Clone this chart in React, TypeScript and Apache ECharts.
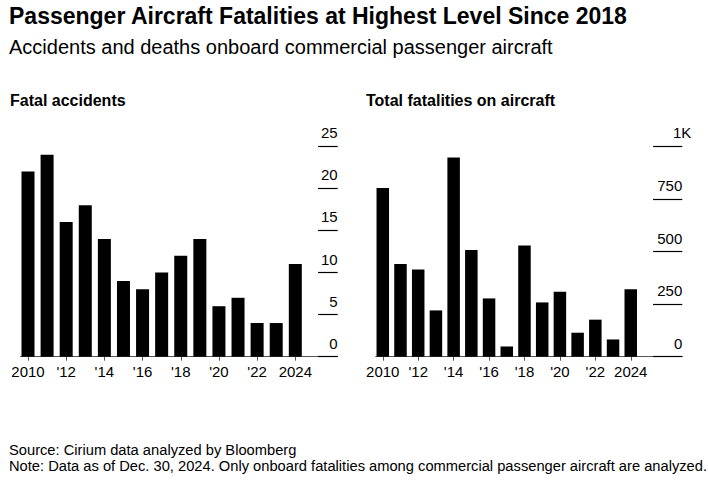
import React, { useEffect, useRef } from "react";
import * as echarts from "echarts";

const years = [2010, 2011, 2012, 2013, 2014, 2015, 2016, 2017, 2018, 2019, 2020, 2021, 2022, 2023, 2024];
const fatalAccidents = [22, 24, 16, 18, 14, 9, 8, 10, 12, 14, 6, 7, 4, 4, 11];
const totalFatalities = [802, 440, 414, 220, 947, 507, 277, 48, 528, 258, 309, 114, 176, 82, 320];
const labelYears = [2010, 2012, 2014, 2016, 2018, 2020, 2022, 2024];
const accidentTicks = [0, 5, 10, 15, 20, 25];
const fatalityTicks = [0, 250, 500, 750, 1000];

const FONT = "'Liberation Sans', Arial, sans-serif";
const TOP = 146.3;
const BOTTOM = 491 - 356.7;

// x-axis domains (in years) and where the short right-hand tick marks start
const leftDomain = { min: 2009.607, max: 2026.22, tickStart: 2025.19 };
const rightDomain = { min: 2009.6, max: 2026.91, tickStart: 2025.26 };

const yearLabel = (v: number) =>
  v === 2010 || v === 2024 ? String(v) : "'" + String(v).slice(2);

function xAxisFor(gridIndex: number, d: { min: number; max: number }) {
  return {
    type: "value",
    gridIndex,
    min: d.min,
    max: d.max,
    axisLine: { show: true, onZero: false, lineStyle: { color: "#555", width: 1 } },
    axisTick: { show: true, customValues: labelYears, length: 4, lineStyle: { color: "#555" } },
    axisLabel: {
      customValues: labelYears,
      formatter: yearLabel,
      fontSize: 15,
      color: "#000",
      fontFamily: FONT,
      margin: 7,
    },
    splitLine: { show: false },
  };
}

function tickMarks(ticks: number[], d: { max: number; tickStart: number }) {
  return {
    symbol: ["none", "none"],
    label: { show: false },
    lineStyle: { color: "#000000", width: 1.2, type: "solid", opacity: 1 },
    data: ticks.map((t) => [
      { coord: [d.tickStart, t] },
      { coord: [d.max, t] },
    ]),
  };
}

const labelBase = {
  inside: true,
  align: "right",
  verticalAlign: "bottom",
  padding: [0, 0, 6, 0],
  fontSize: 15,
  color: "#000",
  fontFamily: FONT,
};

export default function App() {
  const ref = useRef<HTMLDivElement>(null);
  useEffect(() => {
    if (!ref.current) return;
    const chart = echarts.init(ref.current, undefined, { renderer: "svg" });
    chart.setOption({
      animation: false,
      backgroundColor: "#fff",
      textStyle: { fontFamily: FONT },
      title: [
        {
          text: "Passenger Aircraft Fatalities at Highest Level Since 2018",
          left: 9,
          top: 4,
          padding: 0,
          textStyle: { fontSize: 23, fontWeight: "bold", color: "#000", fontFamily: FONT },
        },
        {
          text: "Accidents and deaths onboard commercial passenger aircraft",
          left: 9,
          top: 37,
          padding: 0,
          textStyle: { fontSize: 20, fontWeight: "normal", color: "#000", fontFamily: FONT },
        },
        {
          text: "Fatal accidents",
          left: 10,
          top: 92,
          padding: 0,
          textStyle: { fontSize: 16, fontWeight: "bold", color: "#000", fontFamily: FONT },
        },
        {
          text: "Total fatalities on aircraft",
          left: 366,
          top: 92,
          padding: 0,
          textStyle: { fontSize: 16, fontWeight: "bold", color: "#000", fontFamily: FONT },
        },
        {
          text: "Source: Cirium data analyzed by Bloomberg",
          left: 9,
          top: 442,
          padding: 0,
          textStyle: { fontSize: 14.7, fontWeight: "normal", color: "#000", fontFamily: FONT },
        },
        {
          text: "Note: Data as of Dec. 30, 2024. Only onboard fatalities among commercial passenger aircraft are analyzed.",
          left: 9,
          top: 458,
          padding: 0,
          textStyle: { fontSize: 14.7, fontWeight: "normal", color: "#000", fontFamily: FONT },
        },
      ],
      grid: [
        { left: 20.5, right: 708 - 337.7, top: TOP, bottom: BOTTOM },
        { left: 375.7, right: 708 - 682.3, top: TOP, bottom: BOTTOM },
      ],
      xAxis: [xAxisFor(0, leftDomain), xAxisFor(1, rightDomain)],
      yAxis: [
        {
          type: "value",
          gridIndex: 0,
          position: "right",
          min: 0,
          max: 25,
          interval: 5,
          axisLine: { show: false },
          axisTick: { show: false },
          splitLine: { show: false },
          axisLabel: { ...labelBase, margin: 0 },
        },
        {
          type: "value",
          gridIndex: 1,
          position: "right",
          min: 0,
          max: 1000,
          interval: 250,
          axisLine: { show: false },
          axisTick: { show: false },
          splitLine: { show: false },
          axisLabel: {
            ...labelBase,
            margin: -9,
            formatter: (v: number) => (v >= 1000 ? "{k|1K}" : "{n|" + v + "}"),
            rich: {
              k: { fontSize: 15, color: "#000", fontFamily: FONT },
              n: { fontSize: 15, color: "#000", fontFamily: FONT, padding: [0, 9, 0, 0] },
            },
          },
        },
      ],
      series: [
        {
          type: "bar",
          xAxisIndex: 0,
          yAxisIndex: 0,
          barWidth: 13,
          itemStyle: { color: "#000" },
          data: years.map((y, i) => [y, fatalAccidents[i]]),
          markLine: tickMarks(accidentTicks, leftDomain),
        },
        {
          type: "bar",
          xAxisIndex: 1,
          yAxisIndex: 1,
          barWidth: 12.5,
          itemStyle: { color: "#000" },
          data: years.map((y, i) => [y, totalFatalities[i]]),
          markLine: tickMarks(fatalityTicks, rightDomain),
        },
      ],
    });
    return () => chart.dispose();
  }, []);
  return (
    <div
      ref={ref}
      style={{ position: "fixed", left: 0, top: 0, width: 708, height: 491, background: "#fff" }}
    />
  );
}
